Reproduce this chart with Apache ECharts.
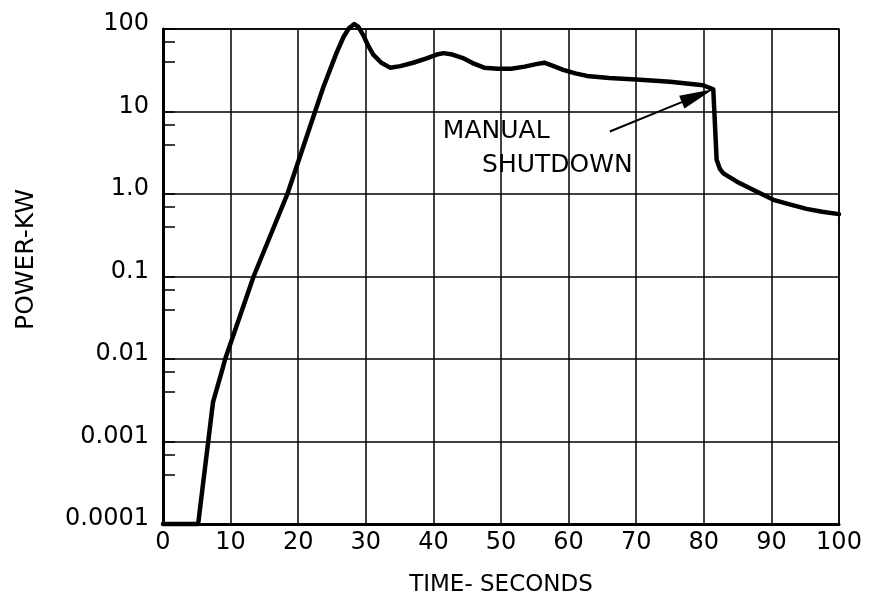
<!DOCTYPE html>
<html>
<head>
<meta charset="utf-8">
<script src="https://cdn.jsdelivr.net/npm/echarts@6/dist/echarts.min.js"></script>
<style>
html,body{margin:0;padding:0;background:#fff;}
#chart{width:872px;height:603px;}
</style>
</head>
<body>
<div id="chart"></div>
<script>
// ---- data ----
const timeSeconds = [0, 5.2, 7.4, 8.7, 9.2, 13.4, 18.4, 22.5, 23.7, 24.7, 25.7, 26.7, 27.5, 28.3, 28.9, 29.6, 30.3, 31.1, 32.3, 33.6, 35.1, 37.0, 39.0, 40.5, 41.5, 42.8, 44.5, 46.0, 47.5, 49.5, 51.5, 53.5, 55.2, 56.4, 57.6, 59.2, 61.0, 62.7, 66.0, 70.0, 75.0, 79.9, 81.4, 81.9, 82.4, 82.9, 84.9, 87.5, 90.3, 92.7, 95.2, 97.5, 100];
const powerKW = [0.0001, 0.0001, 0.003, 0.0071, 0.01, 0.1, 1.0, 10, 19.5, 32, 52, 80, 102, 115, 106, 85, 64, 49, 39, 34, 35.5, 39, 44, 49, 51, 49, 44, 38, 34, 33, 33, 35, 37.5, 39, 36, 32, 29, 27, 25.5, 24.5, 23, 20.8, 18.6, 2.6, 2.0, 1.78, 1.41, 1.1, 0.85, 0.75, 0.66, 0.61, 0.57];
const xTickLabels = ['0','10','20','30','40','50','60','70','80','90','100'];
const yTickLabels = ['0.0001','0.001','0.01','0.1','1.0','10','100'];
const annotationLines = ['MANUAL', 'SHUTDOWN'];
const annotationAnchors = [[41.4, 5.7], [47.2, 2.24]];
const arrowFrom = [66.1, 5.72];
const arrowTo = [81.4, 18.6];

const seriesData = timeSeconds.map((t, i) => [t, powerKW[i]]);
const FONT = '"DejaVu Sans", sans-serif';

const chart = echarts.init(document.getElementById('chart'), null, {renderer: 'canvas'});
chart.setOption({
  animation: false,
  backgroundColor: '#fff',
  grid: {left: 163, right: 33, top: 29, bottom: 79, show: true, borderColor: '#000', borderWidth: 1.5, backgroundColor: 'transparent'},
  xAxis: {
    type: 'value', min: 0, max: 100, interval: 10,
    name: 'TIME- SECONDS', nameLocation: 'middle', nameGap: 50,
    nameTextStyle: {fontFamily: FONT, fontSize: 23, color: '#000'},
    axisLine: {show: true, lineStyle: {color: '#000', width: 3}},
    axisTick: {show: false},
    axisLabel: {fontFamily: FONT, fontSize: 24, color: '#000', margin: 7,
      formatter: v => xTickLabels[Math.round(v / 10)]},
    splitLine: {show: true, lineStyle: {color: '#000', width: 1.5}}
  },
  yAxis: {
    type: 'log', logBase: 10, min: 0.0001, max: 100, splitNumber: 6,
    name: 'POWER-KW', nameLocation: 'middle', nameGap: 124,
    nameTextStyle: {fontFamily: FONT, fontSize: 25, color: '#000', padding: [0, 0, 0, 34]},
    axisLine: {show: true, lineStyle: {color: '#000', width: 3}},
    axisTick: {show: true, inside: true, length: 12, lineStyle: {color: '#000', width: 1.5}},
    minorTick: {show: true, splitNumber: 3, length: 12, lineStyle: {color: '#000', width: 1.5}},
    axisLabel: {fontFamily: FONT, fontSize: 24, color: '#000', margin: 14,
      verticalAlign: 'bottom', lineHeight: 10,
      formatter: v => yTickLabels[Math.round(Math.log10(v)) + 4]},
    splitLine: {show: true, lineStyle: {color: '#000', width: 1.5}},
    minorSplitLine: {show: false}
  },
  series: [{
    type: 'line',
    data: seriesData,
    smooth: false,
    clip: false,
    showSymbol: false,
    lineStyle: {color: '#000', width: 4.5, join: 'round', cap: 'round'},
    markPoint: {
      silent: true,
      symbol: 'circle', symbolSize: 0,
      label: {show: true, position: 'right', distance: 0, color: '#000', fontFamily: FONT, fontSize: 25,
        formatter: p => p.name},
      data: annotationLines.map((s, i) => ({name: s, coord: annotationAnchors[i]}))
    }
  }, {
    type: 'custom',
    silent: true,
    clip: false,
    data: [[arrowFrom[0], arrowFrom[1], arrowTo[0], arrowTo[1]]],
    encode: {x: [0, 2], y: [1, 3]},
    renderItem: function (params, api) {
      const p0 = api.coord([api.value(0), api.value(1)]);
      const p1 = api.coord([api.value(2), api.value(3)]);
      const dx = p1[0] - p0[0], dy = p1[1] - p0[1];
      const len = Math.sqrt(dx * dx + dy * dy);
      const ux = dx / len, uy = dy / len;
      const headLen = 34, headHalf = 7;
      const bx = p1[0] - ux * headLen, by = p1[1] - uy * headLen;
      return {
        type: 'group',
        children: [{
          type: 'line',
          shape: {x1: p0[0], y1: p0[1], x2: bx, y2: by},
          style: {stroke: '#000', lineWidth: 2}
        }, {
          type: 'polygon',
          shape: {points: [[p1[0], p1[1]], [bx - uy * headHalf, by + ux * headHalf], [bx + uy * headHalf, by - ux * headHalf]]},
          style: {fill: '#000'}
        }]
      };
    }
  }]
});
</script>
</body>
</html>
